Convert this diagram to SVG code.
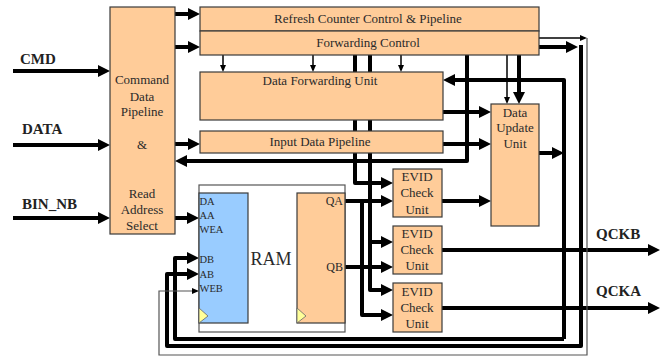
<svg xmlns="http://www.w3.org/2000/svg" width="666" height="356" viewBox="0 0 666 356">
<style>
.box{fill:#FFCC99;stroke:#3a3a3a;stroke-width:1.2}
.blue{fill:#99CCFF;stroke:#3a3a3a;stroke-width:1.2}
.ram{fill:#fff;stroke:#555;stroke-width:1.2}
.clk{fill:#FFFF99;stroke:#666;stroke-width:0.8}
.t{font-family:"Liberation Serif","Times New Roman",serif;font-size:13px;fill:#2a2a2a;text-anchor:middle}
.p{font-family:"Liberation Serif","Times New Roman",serif;font-size:10.5px;fill:#2a2a2a}
.lbl{font-family:"Liberation Serif","Times New Roman",serif;font-size:15px;font-weight:bold;fill:#222}
.k{fill:none;stroke:#000;stroke-width:4;stroke-linejoin:round}
.n{fill:none;stroke:#000;stroke-width:1.5}
.g{fill:none;stroke:#555;stroke-width:1.2}
</style>
<defs>
<marker id="ak" viewBox="0 0 12 12" refX="8" refY="6" markerWidth="12" markerHeight="12" markerUnits="userSpaceOnUse" orient="auto"><path d="M0,0 L12,6 L0,12 z" fill="#000"/></marker>
<marker id="an" viewBox="0 0 7 6" refX="5" refY="3" markerWidth="7" markerHeight="6" markerUnits="userSpaceOnUse" orient="auto"><path d="M0,0 L7,3 L0,6 z" fill="#000"/></marker>
</defs>
<g id="connectors">
<path class="k" d="M13,71 H106" marker-end="url(#ak)"/>
<path class="k" d="M13,145 H106" marker-end="url(#ak)"/>
<path class="k" d="M13,218 H106" marker-end="url(#ak)"/>
<path class="k" d="M175,14 H196" marker-end="url(#ak)"/>
<path class="k" d="M175,47 H196" marker-end="url(#ak)"/>
<path class="k" d="M175,144 H196" marker-end="url(#ak)"/>
<path class="k" d="M467,55 V161 H179" marker-end="url(#ak)"/>
<path class="k" d="M175,218 H195" marker-end="url(#ak)"/>
<path class="n" d="M223,55 V70" marker-end="url(#an)"/>
<path class="n" d="M313,55 V70" marker-end="url(#an)"/>
<path class="n" d="M401,55 V70" marker-end="url(#an)"/>
<path class="k" d="M519,55 V100" marker-end="url(#ak)"/>
<path class="n" d="M507,55 V102" marker-end="url(#an)"/>
<path class="k" d="M443,112 H487" marker-end="url(#ak)"/>
<path class="k" d="M443,144 H487" marker-end="url(#ak)"/>
<path class="k" d="M442,201 H487" marker-end="url(#ak)"/>
<path class="k" d="M442,250 H656" marker-end="url(#ak)"/>
<path class="k" d="M442,308 H656" marker-end="url(#ak)"/>
<path class="k" d="M355,55 V183 H389" marker-end="url(#ak)"/>
<path class="k" d="M370,55 V290 H389" marker-end="url(#ak)"/>
<path class="k" d="M370,242 H389" marker-end="url(#ak)"/>
<path class="k" d="M345,201 H389" marker-end="url(#ak)"/>
<path class="k" d="M362,201 V315 H389" marker-end="url(#ak)"/>
<path class="k" d="M345,267 H389" marker-end="url(#ak)"/>
<path class="k" d="M539,153 H560" marker-end="url(#ak)"/>
<path class="k" d="M564,339 V80 H447" marker-end="url(#ak)"/>
<path class="k" d="M564,339 H175 V258 H195" marker-end="url(#ak)"/>
<path class="k" d="M539,47 H574" marker-end="url(#ak)"/>
<path class="k" d="M581,45 V346 H167 V274 H195" marker-end="url(#ak)"/>
<path class="n" d="M539,38 H585" marker-end="url(#an)"/>
<path class="g" d="M587,38 V355 H159 V291 H197" marker-end="url(#an)"/>
</g>
<g id="cmd-pipeline">
<rect class="box" x="110" y="7" width="65" height="227"/>
<text class="t" x="142" y="84">Command</text>
<text class="t" x="142" y="101">Data</text>
<text class="t" x="142" y="116">Pipeline</text>
<text class="t" x="142" y="149">&amp;</text>
<text class="t" x="142" y="198">Read</text>
<text class="t" x="142" y="214">Address</text>
<text class="t" x="142" y="230">Select</text>
</g>
<g id="refresh">
<rect class="box" x="200" y="7" width="339" height="24"/>
<text class="t" x="368" y="23">Refresh Counter Control &amp; Pipeline</text>
</g>
<g id="forwarding-control">
<rect class="box" x="200" y="31" width="339" height="24"/>
<text class="t" x="368" y="47">Forwarding Control</text>
</g>
<g id="data-forwarding">
<rect class="box" x="200" y="72" width="243" height="48"/>
<text class="t" x="320" y="85">Data Forwarding Unit</text>
</g>
<g id="input-pipeline">
<rect class="box" x="200" y="131" width="243" height="22"/>
<text class="t" x="320" y="146">Input Data Pipeline</text>
</g>
<g id="ram">
<rect class="ram" x="199" y="185" width="146" height="147"/>
<rect class="blue" x="199" y="193" width="49" height="130"/>
<rect class="box" x="297" y="193" width="48" height="130"/>
<path class="clk" d="M199,308 L208,316 L199,323 z"/>
<path class="clk" d="M297,308 L306,316 L297,323 z"/>
<text class="p" x="199.5" y="205">DA</text>
<text class="p" x="199.5" y="219">AA</text>
<text class="p" x="199.5" y="233">WEA</text>
<text class="p" x="199.5" y="263">DB</text>
<text class="p" x="199.5" y="278">AB</text>
<text class="p" x="199.5" y="292">WEB</text>
<text x="271" y="265" style="font-family:'Liberation Serif',serif;font-size:18px;fill:#2a2a2a;text-anchor:middle">RAM</text>
<text class="t" x="343" y="205" style="text-anchor:end;font-size:12px">QA</text>
<text class="t" x="343" y="271" style="text-anchor:end;font-size:12px">QB</text>
</g>
<g id="evid1">
<rect class="box" x="393" y="169" width="49" height="48"/>
<text class="t" x="417" y="181">EVID</text>
<text class="t" x="417" y="197">Check</text>
<text class="t" x="417" y="214">Unit</text>
</g>
<g id="evid2">
<rect class="box" x="393" y="226" width="49" height="48"/>
<text class="t" x="417" y="238">EVID</text>
<text class="t" x="417" y="254">Check</text>
<text class="t" x="417" y="270">Unit</text>
</g>
<g id="evid3">
<rect class="box" x="393" y="283" width="49" height="49"/>
<text class="t" x="417" y="296">EVID</text>
<text class="t" x="417" y="312">Check</text>
<text class="t" x="417" y="328">Unit</text>
</g>
<g id="data-update">
<rect class="box" x="491" y="104" width="48" height="122"/>
<text class="t" x="515" y="117">Data</text>
<text class="t" x="515" y="132">Update</text>
<text class="t" x="515" y="148">Unit</text>
</g>
<g id="labels">
<text class="lbl" x="20" y="64">CMD</text>
<text class="lbl" x="22" y="134">DATA</text>
<text class="lbl" x="22" y="209">BIN_NB</text>
<text class="lbl" x="596" y="239">QCKB</text>
<text class="lbl" x="596" y="296">QCKA</text>
</g>
</svg>
